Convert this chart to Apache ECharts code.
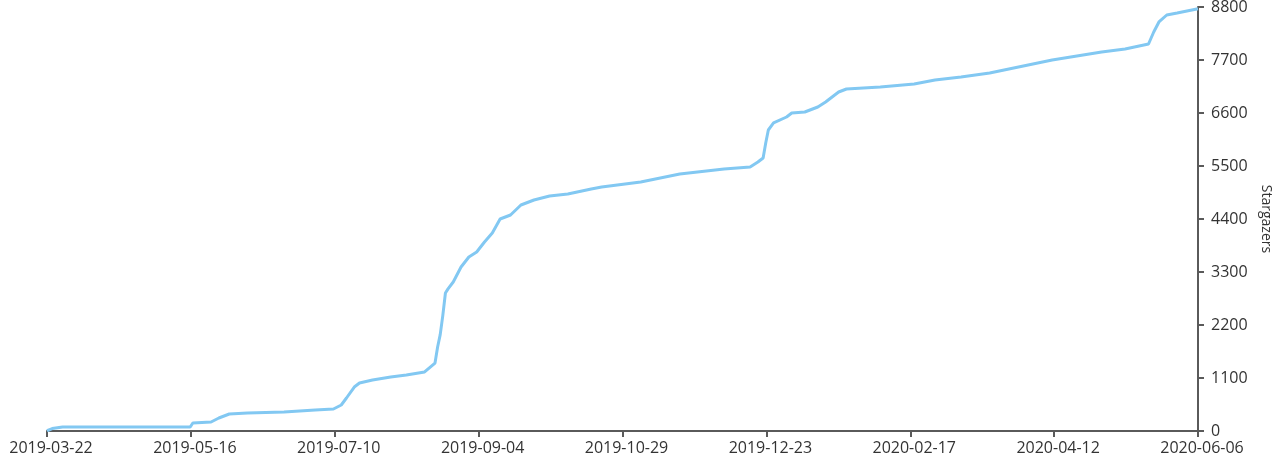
<!DOCTYPE html>
<html>
<head>
<meta charset="utf-8">
<script src="https://cdn.jsdelivr.net/npm/echarts@6/dist/echarts.min.js"></script>
<style>
html,body{margin:0;padding:0;background:#fff;overflow:hidden;}
#chart{width:1277px;height:460px;}
</style>
</head>
<body>
<div id="chart"></div>
<script>
// Days since 2019-03-22
var days = [0, 2, 6, 55, 56, 63, 66, 70, 77, 91, 103, 110, 113, 115, 118, 120, 125, 132, 138, 145, 149, 150, 151, 152, 153, 154, 156, 159, 162, 165, 168, 171, 174, 178, 182, 187, 193, 200, 209, 213, 228, 243, 260, 270, 273, 275, 276, 277, 279, 284, 286, 291, 296, 299, 304, 307, 320, 333, 341, 351, 362, 386, 405, 414, 423, 425, 427, 430, 434, 442];
var stars = [5, 50, 83, 83, 166, 187, 270, 353, 374, 394, 436, 457, 540, 685, 913, 996, 1058, 1121, 1162, 1225, 1411, 1743, 2000, 2400, 2864, 2950, 3092, 3404, 3611, 3715, 3923, 4109, 4400, 4483, 4691, 4794, 4877, 4919, 5023, 5064, 5168, 5334, 5438, 5479, 5583, 5666, 5977, 6247, 6393, 6517, 6600, 6621, 6725, 6829, 7036, 7098, 7140, 7202, 7285, 7347, 7430, 7700, 7866, 7928, 8032, 8281, 8489, 8634, 8676, 8765];
var tickLabels = ['2019-03-22', '2019-05-16', '2019-07-10', '2019-09-04', '2019-10-29', '2019-12-23', '2020-02-17', '2020-04-12', '2020-06-06'];
var totalDays = 442;
var yMax = 8800, yInterval = 1100;

var seriesData = days.map(function (d, i) { return [d, stars[i]]; });
var step = totalDays / (tickLabels.length - 1);

var chart = echarts.init(document.getElementById('chart'));
var axisColor = '#5a5a5a';
var fontFam = '"Open Sans", "Noto Sans", sans-serif';
chart.setOption({
  animation: false,
  grid: { left: 47, right: 79, top: 7, bottom: 29, containLabel: false, outerBoundsMode: 'none' },
  xAxis: {
    type: 'value',
    min: 0,
    max: totalDays,
    interval: step,
    splitLine: { show: false },
    axisLine: { onZero: false, lineStyle: { color: axisColor, width: 2 } },
    axisTick: { show: true, length: 6, lineStyle: { color: axisColor, width: 2 } },
    axisLabel: {
      color: '#333', fontSize: 16, fontFamily: fontFam, margin: 9,
      padding: [0, 0, 0, 8],
      showMinLabel: true, showMaxLabel: true,
      formatter: function (v) { return tickLabels[Math.round(v / step)] || ''; }
    }
  },
  yAxis: {
    type: 'value',
    position: 'right',
    min: 0,
    max: yMax,
    interval: yInterval,
    name: 'Stargazers',
    nameLocation: 'middle',
    nameRotate: -90,
    nameGap: 60,
    nameTextStyle: { color: '#333', fontSize: 14, fontFamily: fontFam },
    splitLine: { show: false },
    axisLine: { show: true, onZero: false, lineStyle: { color: axisColor, width: 2 } },
    axisTick: { show: true, length: 6, lineStyle: { color: axisColor, width: 2 } },
    axisLabel: { color: '#333', fontSize: 16, fontFamily: fontFam, margin: 13,
      formatter: function (v) { return String(v); } }
  },
  series: [{
    type: 'line',
    data: seriesData,
    showSymbol: false,
    symbol: 'none',
    lineStyle: { color: '#82c8f2', width: 3 },
    itemStyle: { color: '#82c8f2' }
  }]
});
</script>
</body>
</html>
